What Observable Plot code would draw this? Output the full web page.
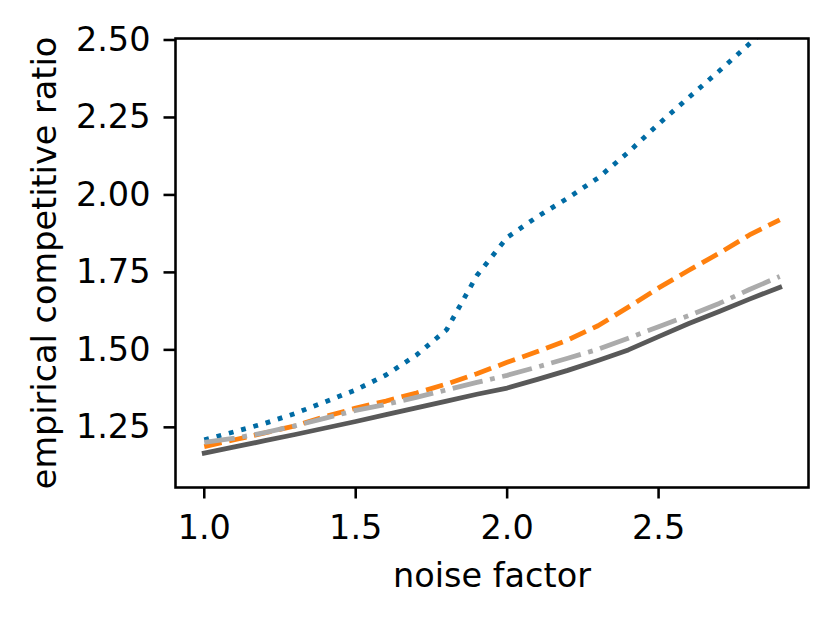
<!DOCTYPE html>
<html><head><meta charset="utf-8">
<script src="https://cdn.jsdelivr.net/npm/d3@7"></script>
<script src="https://cdn.jsdelivr.net/npm/@observablehq/plot@0.6"></script>
<style>body{margin:0;background:#fff} svg{display:block}</style>
</head><body><div id="chart"></div>
<script>
// noise factor (x)
const noise = [1.0,1.1,1.2,1.3,1.4,1.5,1.6,1.7,1.8,1.9,2.0,2.1,2.2,2.3,2.4,2.5,2.6,2.7,2.8,2.9];
// empirical competitive ratio per series
const seriesDotted  = [1.205,1.231,1.258,1.290,1.328,1.366,1.414,1.478,1.560,1.735,1.858,1.925,1.985,2.050,2.133,2.224,2.310,2.395,2.483,2.570];
const seriesDashed  = [1.183,1.205,1.227,1.250,1.280,1.307,1.330,1.356,1.385,1.418,1.455,1.490,1.527,1.573,1.633,1.695,1.752,1.807,1.866,1.915];
const seriesDashDot = [1.197,1.210,1.228,1.250,1.275,1.300,1.319,1.342,1.366,1.390,1.413,1.440,1.468,1.497,1.533,1.570,1.606,1.645,1.690,1.732];
const seriesSolid   = [1.162,1.182,1.202,1.222,1.243,1.264,1.286,1.308,1.330,1.352,1.372,1.400,1.429,1.461,1.495,1.538,1.580,1.619,1.659,1.697];

const seriesNames = ["dotted", "dashed", "dashdot", "solid"];
const seriesValues = [seriesDotted, seriesDashed, seriesDashDot, seriesSolid];
const seriesColors = ["#006BA4", "#FF800E", "#ABABAB", "#595959"];
const seriesDash = ["4.8,7.92", "17.76,7.68", "30.72,7.68,4.8,7.68", null];

const xTicks = [1.0, 1.5, 2.0, 2.5];
const yTicks = [1.25, 1.5, 1.75, 2.0, 2.25, 2.5];
const xLabel = "noise factor";
const yLabel = "empirical competitive ratio";

const table = seriesNames.flatMap((name, s) =>
  noise.map((x, i) => ({series: name, noise: x, ratio: seriesValues[s][i]})));

const FS = 33.5;
const LW = 4.8;
const AW = 2.56;

const chart = Plot.plot({
  width: 830, height: 619,
  marginLeft: 175, marginRight: 22, marginTop: 38, marginBottom: 132,
  style: {fontFamily: "'DejaVu Sans', sans-serif", fontSize: FS + "px", color: "black", background: "white"},
  x: {domain: [0.905, 2.995]},
  y: {domain: [1.051, 2.5]},
  marks: [
    ...seriesNames.map((name, s) => Plot.line(table.filter(d => d.series === name), {
      x: "noise", y: "ratio",
      stroke: seriesColors[s], strokeWidth: LW,
      strokeDasharray: seriesDash[s],
      strokeLinecap: seriesDash[s] ? "butt" : "square",
      strokeLinejoin: "round",
      clip: true
    })),
    Plot.frame({stroke: "black", strokeWidth: AW}),
    Plot.axisX({ticks: xTicks, tickFormat: d3.format(".1f"), tickSize: 11.5, tickPadding: 16.5, strokeWidth: AW, fontSize: FS, label: null}),
    Plot.axisY({ticks: yTicks, tickFormat: d3.format(".2f"), tickSize: 11.5, tickPadding: 13.5, strokeWidth: AW, fontSize: FS, dy: 1.5, label: null}),
    Plot.text([xLabel], {text: d => d, frameAnchor: "bottom", dy: 88.5, lineAnchor: "middle", textAnchor: "middle", fontSize: FS, fill: "black"}),
    Plot.text([yLabel], {text: d => d, frameAnchor: "left", dx: -130.5, rotate: -90, lineAnchor: "middle", textAnchor: "middle", fontSize: FS, fill: "black"})
  ]
});
document.getElementById("chart").appendChild(chart);
</script>
</body></html>
